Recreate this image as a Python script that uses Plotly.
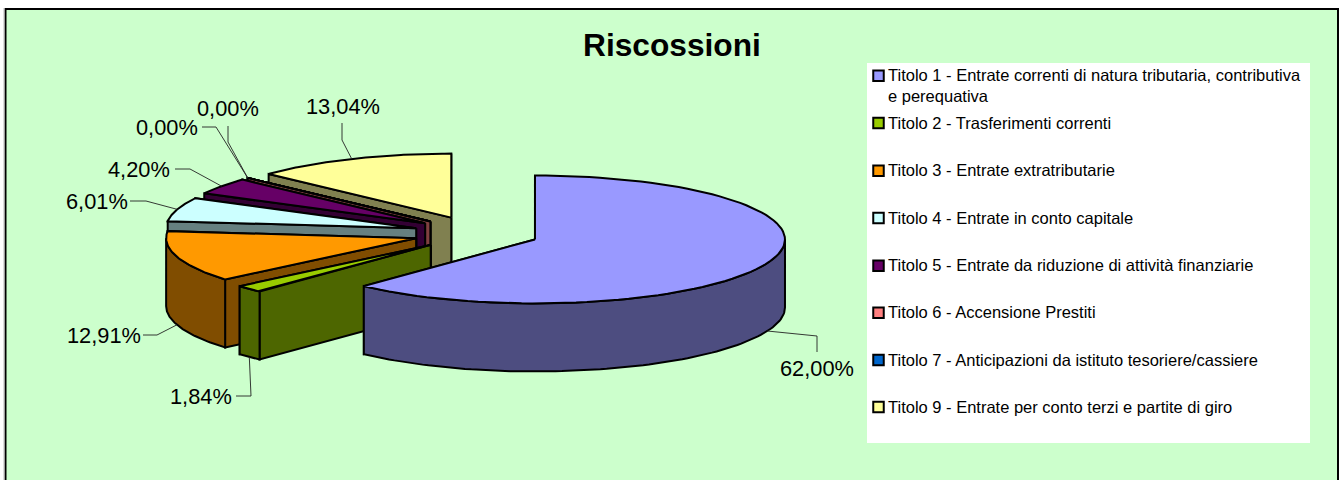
import numpy as np
import plotly.graph_objects as go

# ---- data ----
categories = [
    "Titolo 1 - Entrate correnti di natura tributaria, contributiva<br>e perequativa",
    "Titolo 2 - Trasferimenti correnti",
    "Titolo 3 - Entrate extratributarie",
    "Titolo 4 - Entrate in conto capitale",
    "Titolo 5 - Entrate da riduzione di attività finanziarie",
    "Titolo 6 - Accensione Prestiti",
    "Titolo 7 - Anticipazioni da istituto tesoriere/cassiere",
    "Titolo 9 - Entrate per conto terzi e partite di giro",
]
values = [62.00, 1.84, 12.91, 6.01, 4.20, 0.00, 0.00, 13.04]
top_colors = ["#9999FF", "#99CC00", "#FF9900", "#CCFFFF", "#660066", "#FF8080", "#0066CC", "#FFFF99"]
side_colors = ["#4D4D80", "#4D6600", "#804D00", "#668080", "#330033", "#804040", "#003366", "#808050"]

# ---- projection of the 3-D pie (pixel space) ----
CX, CY = 476.4, 233.2
RX, RY = 250.0, 64.0
DEPTH = 68.0
EX, EY = 63.0, 17.0
LINE = dict(color="#000000", width=2)

fig = go.Figure()


def face(xs, ys, color, name):
    fig.add_trace(go.Scatter(
        x=list(xs), y=list(ys), mode="lines", fill="toself", fillcolor=color,
        line=LINE, hoverinfo="skip", showlegend=False, name=name))


def apex(mid):
    return CX + EX * np.sin(mid), CY - EY * np.cos(mid)


def arc(ax, ay, a0, a1, n=90):
    t = np.linspace(a0, a1, n)
    return ax + RX * np.sin(t), ay - RY * np.cos(t)


bounds = np.radians(np.concatenate([[0.0], np.cumsum(values)]) * 3.6)
anchors = []
for i, v in enumerate(values):
    a0, a1 = bounds[i], bounds[i + 1]
    mid = (a0 + a1) / 2
    ax, ay = apex(mid)
    px = ax + RX * np.sin(mid)
    py = ay - RY * np.cos(mid)
    if np.cos(mid) < 0:
        py += DEPTH
    anchors.append((px, py))

# painter's order: back to front
for i in [7, 6, 5, 4, 3, 2, 1, 0]:
    a0, a1 = bounds[i], bounds[i + 1]
    mid = (a0 + a1) / 2
    ax, ay = apex(mid)
    name = categories[i].split(" - ")[0]
    # radial walls
    for a in (a1, a0):
        ex, ey = ax + RX * np.sin(a), ay - RY * np.cos(a)
        face([ax, ex, ex, ax, ax], [ay, ey, ey + DEPTH, ay + DEPTH, ay], side_colors[i], name)
    # outer rim on the front half
    lo, hi = max(a0, np.pi / 2), min(a1, 3 * np.pi / 2)
    if hi > lo:
        xs, ys = arc(ax, ay, lo, hi)
        face(np.r_[xs, xs[::-1], xs[0]], np.r_[ys, ys[::-1] + DEPTH, ys[0]], side_colors[i], name)
    # top
    xs, ys = arc(ax, ay, a0, a1)
    face(np.r_[ax, xs, ax], np.r_[ay, ys, ay], top_colors[i], name)

# ---- data labels with leaders ----
label_text = [f"{v:.2f}%".replace(".", ",") for v in values]
label_pos = [(817, 368), (201, 396), (104, 335), (97, 201), (139, 169), (167, 127), (228, 108), (343, 106)]
leader_mid = [
    [(817, 352), (817, 336)],
    [(236, 396), (251, 396)],
    [(143, 335), (157, 335)],
    [(130, 201), (146, 201)],
    [(175, 169), (190, 169)],
    [(202, 127), (216, 127)],
    [(228, 126), (228, 142)],
    [(342, 123), (342, 140)],
]
for (pts, anc) in zip(leader_mid, anchors):
    fig.add_trace(go.Scatter(
        x=[p[0] for p in pts] + [anc[0]], y=[p[1] for p in pts] + [anc[1]],
        mode="lines", line=dict(color="#222222", width=0.9),
        hoverinfo="skip", showlegend=False))

ann = []
for t, (x, y) in zip(label_text, label_pos):
    ann.append(dict(x=x, y=y, text=t, showarrow=False, xanchor="center", yanchor="middle",
                    font=dict(family="Liberation Sans", size=21.8, color="#000000")))

# ---- legend ----
legend_y = [75.7, 123, 170.7, 218, 265.7, 312.7, 360, 407]
fig.add_trace(go.Scatter(
    x=[878.5] * len(legend_y), y=legend_y, mode="markers",
    marker=dict(symbol="square", size=10.5, color=top_colors, line=dict(color="#000000", width=2)),
    hoverinfo="skip", showlegend=False))
for c, y in zip(categories, legend_y):
    ann.append(dict(x=886, y=y - 11.5, text=c, showarrow=False, xanchor="left", yanchor="top",
                    align="left", font=dict(family="Liberation Sans", size=16.5, color="#000000")))

ann.append(dict(x=672, y=45, text="<b>Riscossioni</b>", showarrow=False, xanchor="center", yanchor="middle",
                font=dict(family="Liberation Sans", size=31.7, color="#000000")))

fig.update_layout(
    width=1340, height=480, margin=dict(l=0, r=0, t=0, b=0),
    paper_bgcolor="#FFFFFF", plot_bgcolor="#FFFFFF", showlegend=False,
    xaxis=dict(range=[0, 1340], visible=False, fixedrange=True),
    yaxis=dict(range=[480, 0], visible=False, fixedrange=True),
    annotations=ann,
    shapes=[
        dict(type="rect", layer="below", x0=5.5, y0=9, x1=1338, y1=495,
             fillcolor="#CCFFCC", line=dict(color="#000000", width=2)),
        dict(type="line", layer="below", x0=4, y0=8, x1=4, y1=480, line=dict(color="#BBBBBB", width=1)),
        dict(type="rect", layer="below", x0=867, y0=63, x1=1310, y1=443,
             fillcolor="#FFFFFF", line=dict(width=0)),
    ],
)
fig.write_html("out.html", post_script="document.body.style.margin='0';document.body.style.overflow='hidden';",
               config={"displayModeBar": False})
